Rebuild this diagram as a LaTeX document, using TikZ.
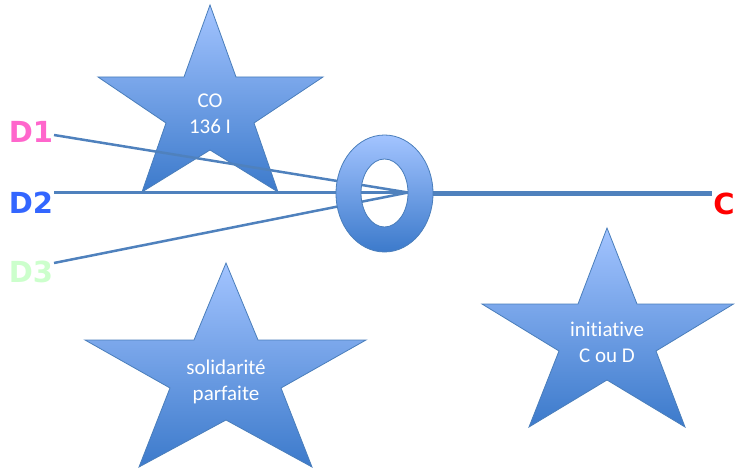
\documentclass[tikz,border=0pt]{standalone}
\usepackage{fontspec}
\setmainfont{Carlito}[Ligatures={NoCommon}]
\newfontfamily\labfont{DejaVu Sans}
\definecolor{startop}{HTML}{A3C4FF}
\definecolor{starbot}{HTML}{3C7ACB}
\definecolor{outl}{HTML}{4A7EBB}
\definecolor{linec}{HTML}{4F81BD}
\definecolor{dpink}{HTML}{FF66CC}
\definecolor{dblue}{HTML}{3366FF}
\definecolor{dgreen}{HTML}{CCFFCC}
\definecolor{cred}{HTML}{FF0000}
\begin{document}
\begin{tikzpicture}[x=1pt,y=-1pt,
  starshape/.style={top color=startop,bottom color=starbot,draw=outl,line width=0.8pt,line join=miter},
  startext/.style={text=white,align=center,font=\fontsize{21}{26}\selectfont,inner sep=0pt},
  dlabel/.style={font=\labfont\bfseries\fontsize{29}{32}\selectfont,inner sep=0pt,anchor=center},
  dline/.style={draw=linec,line width=2.5pt},
  cline/.style={draw=linec,line width=4.5pt}]
\useasboundingbox (0,0) rectangle (735,470);
% star CO
\shade[starshape] (210,5) -- (236,77) -- (323,77) -- (254,123) -- (278,192) -- (210,150) -- (142,192) -- (166,123) -- (98,77) -- (184,77) -- cycle;
% coordinates
\coordinate (hub) at (408,192.5);
\coordinate (d1s) at (54,135);
\coordinate (d2s) at (54,192.5);
\coordinate (d3s) at (54,263);
\coordinate (ringE) at (420,193.5);
\coordinate (cend) at (712,193.5);
% lines
\draw[dline] (d1s) -- (hub);
\draw[dline] (d2s) -- (hub);
\draw[dline] (d3s) -- (hub);
\draw[cline] (ringE) -- (cend);
% ring
\shade[starshape,even odd rule] (384.5,193.5) ellipse [x radius=48.5pt,y radius=58.5pt] (384.5,193) ellipse [x radius=23.5pt,y radius=34pt];
% star solidarite
\shade[starshape] (226,263) -- (258,340) -- (366,340) -- (281,388) -- (312,467) -- (226,420) -- (139,467) -- (170,388) -- (85,340) -- (194,340) -- cycle;
% star initiative
\shade[starshape] (607,228) -- (637,304) -- (733.5,304) -- (656,351) -- (685,427) -- (607,380) -- (529,427) -- (559,351) -- (482,304) -- (578,304) -- cycle;
% texts
\node[startext] (co) at (210,114) {CO\\136 I};
\node[startext] (sol) at (226,382) {solidarité\\parfaite};
\node[startext] (ini) at (607,342) {initiative\\C ou D};
\node[dlabel,text=dpink] (D1) at (31,131.5) {D1};
\node[dlabel,text=dblue] (D2) at (31,203) {D2};
\node[dlabel,text=dgreen] (D3) at (31,271.5) {D3};
\node[dlabel,text=cred] (C) at (724,203.5) {C};
\end{tikzpicture}
\end{document}
